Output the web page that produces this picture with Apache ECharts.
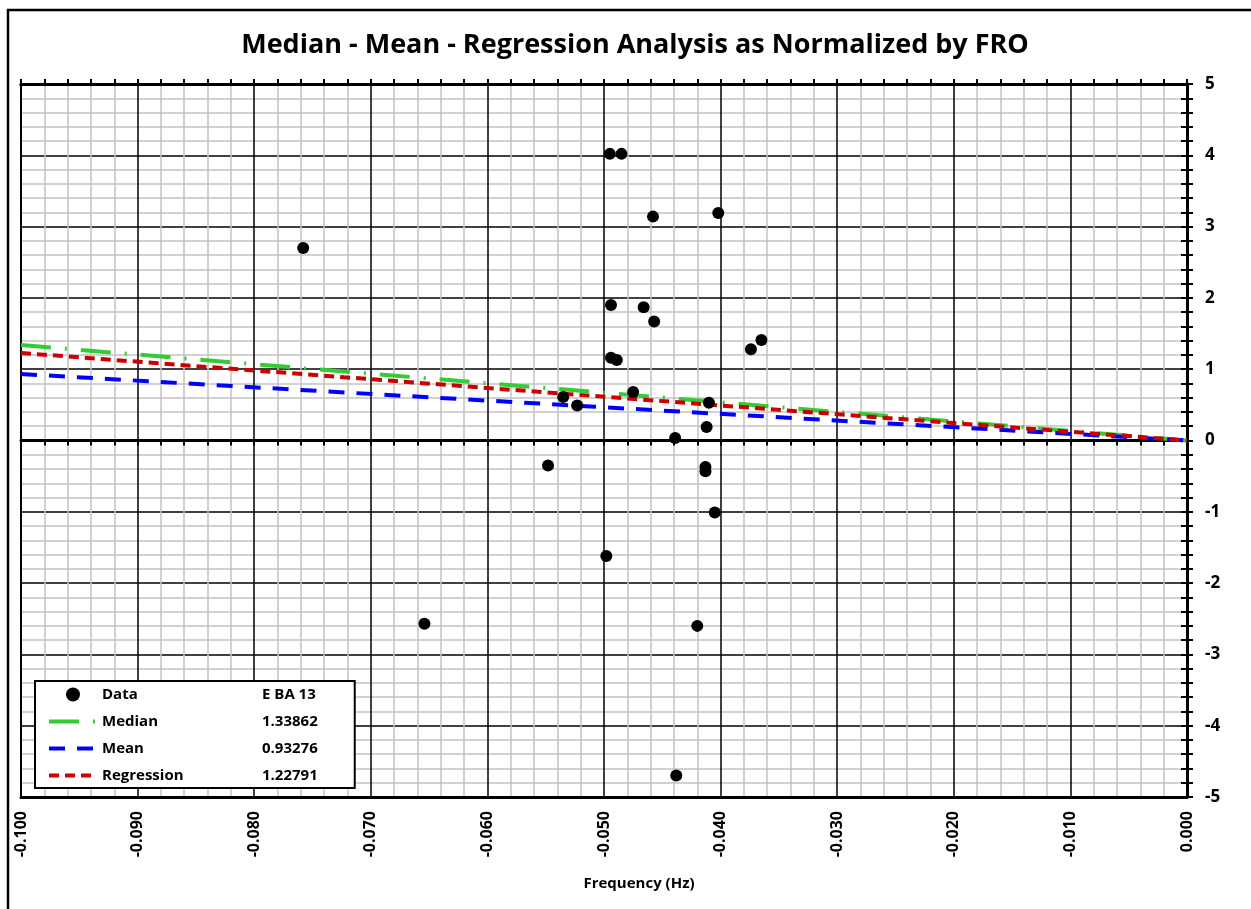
<!DOCTYPE html>
<html>
<head>
<meta charset="utf-8">
<script src="https://cdn.jsdelivr.net/npm/echarts@6/dist/echarts.min.js"></script>
<style>
html,body{margin:0;padding:0;background:#fff;}
#chart{width:1251px;height:909px;}
</style>
</head>
<body>
<div id="chart"></div>
<script>
// ---- data ----
const titleText = 'Median - Mean - Regression Analysis as Normalized by FRO';
const xAxisName = 'Frequency (Hz)';
const dataX = [-0.0758, -0.0495, -0.0485, -0.0458, -0.0402, -0.0494, -0.0466, -0.0457, -0.0494, -0.0489,
               -0.0374, -0.0365, -0.0475, -0.0535, -0.0523, -0.0410, -0.0412, -0.0439, -0.0548, -0.0413,
               -0.0413, -0.0405, -0.0498, -0.0420, -0.0438, -0.0654];
const dataY = [2.70, 4.02, 4.02, 3.14, 3.19, 1.90, 1.87, 1.67, 1.16, 1.13,
               1.28, 1.41, 0.68, 0.61, 0.49, 0.53, 0.19, 0.035, -0.35, -0.37,
               -0.43, -1.01, -1.62, -2.60, -4.70, -2.57];
const lineX = [-0.1, 0];
const medianY = [1.33862, 0];
const meanY = [0.93276, 0];
const regressionY = [1.22791, 0];
const legendNames = ['Data', 'Median', 'Mean', 'Regression'];
const legendValues = ['E BA 13', '1.33862', '0.93276', '1.22791'];

// ---- chart ----
const FONT = 'Open Sans';
const chart = echarts.init(document.getElementById('chart'));
const gridRect = {left: 21, right: 64, top: 84, bottom: 112};
const valueMap = {};
legendNames.forEach((n, i) => valueMap[n] = legendValues[i]);

const xBase = {type: 'value', min: -0.1, max: 0, interval: 0.01};
const yBase = {type: 'value', min: -5, max: 5, interval: 1};

const option = {
  backgroundColor: '#fff',
  animation: false,
  title: {
    text: titleText, left: 630, textAlign: 'center', top: 27,
    textStyle: {fontFamily: FONT, fontWeight: 'bold', fontSize: 27, color: '#000'}
  },
  graphic: [{
    type: 'rect', shape: {x: 8, y: 10, width: 1300, height: 1000},
    style: {fill: 'none', stroke: '#000', lineWidth: 2.5}, silent: true, z: 0
  }],
  grid: [Object.assign({}, gridRect), Object.assign({}, gridRect)],
  xAxis: [
    Object.assign({}, xBase, {
      gridIndex: 0, position: 'bottom',
      axisLine: {onZero: false, lineStyle: {color: '#000', width: 3}},
      axisTick: {show: false},
      axisLabel: {rotate: 90, margin: 14, fontFamily: FONT, fontWeight: 'bold', fontSize: 16, color: '#000',
                  formatter: v => v.toFixed(3)},
      name: xAxisName, nameLocation: 'middle', nameGap: 79,
      nameTextStyle: {fontFamily: FONT, fontWeight: 'bold', fontSize: 15, color: '#000', padding: [0, 0, 0, 70]},
      splitLine: {show: true, lineStyle: {color: '#000', width: 1.5}},
      minorTick: {show: false, splitNumber: 5},
      minorSplitLine: {show: true, lineStyle: {color: '#c4c4c4', width: 1.5}}
    }),
    Object.assign({}, xBase, {
      gridIndex: 0, position: 'top',
      axisLine: {onZero: false, lineStyle: {color: '#000', width: 3}},
      axisTick: {show: false}, axisLabel: {show: false}, splitLine: {show: false}
    }),
    Object.assign({}, xBase, {
      gridIndex: 1, position: 'bottom',
      axisLine: {onZero: true, lineStyle: {color: '#000', width: 3}},
      axisTick: {show: true, inside: false, length: 5, lineStyle: {color: '#000', width: 2}},
      minorTick: {show: true, splitNumber: 5, length: 5, lineStyle: {color: '#000', width: 2}},
      axisLabel: {show: false}, splitLine: {show: false}
    }),
    Object.assign({}, xBase, {
      gridIndex: 1, position: 'top',
      axisLine: {onZero: true, lineStyle: {color: '#000', width: 3}},
      axisTick: {show: true, inside: false, length: 5, lineStyle: {color: '#000', width: 2}},
      minorTick: {show: true, splitNumber: 5, length: 5, lineStyle: {color: '#000', width: 2}},
      axisLabel: {show: false}, splitLine: {show: false}
    })
  ],
  yAxis: [
    Object.assign({}, yBase, {
      gridIndex: 0, position: 'right',
      axisLine: {onZero: false, lineStyle: {color: '#000', width: 3}},
      axisTick: {show: true, inside: false, length: 6, lineStyle: {color: '#000', width: 2}},
      minorTick: {show: true, splitNumber: 5, length: 6, lineStyle: {color: '#000', width: 2}},
      axisLabel: {margin: 18, fontFamily: FONT, fontWeight: 'bold', fontSize: 17, color: '#000'},
      splitLine: {show: true, lineStyle: {color: '#000', width: 1.5}},
      minorSplitLine: {show: true, lineStyle: {color: '#c4c4c4', width: 1.5}}
    }),
    Object.assign({}, yBase, {
      gridIndex: 0, position: 'left',
      axisLine: {onZero: false, lineStyle: {color: '#000', width: 2}},
      axisTick: {show: false}, axisLabel: {show: false}, splitLine: {show: false}
    }),
    Object.assign({}, yBase, {
      gridIndex: 1, position: 'right',
      axisLine: {show: false, onZero: false},
      axisTick: {show: true, inside: true, length: 6, lineStyle: {color: '#000', width: 2}},
      minorTick: {show: true, splitNumber: 5, length: 6, lineStyle: {color: '#000', width: 2}},
      axisLabel: {show: false}, splitLine: {show: false}
    })
  ],
  legend: {
    orient: 'vertical', left: 35, top: 681,
    data: [
      {name: 'Data', icon: 'circle', itemStyle: {color: '#000', opacity: 1}},
      {name: 'Median', itemStyle: {opacity: 0}, lineStyle: {width: 4}},
      {name: 'Mean', itemStyle: {opacity: 0}, lineStyle: {width: 4}},
      {name: 'Regression', itemStyle: {opacity: 0}, lineStyle: {width: 4}}
    ],
    itemWidth: 48, itemHeight: 14, itemGap: 12,
    padding: [6, 37, 5, 12],
    backgroundColor: '#fff', borderColor: '#000', borderWidth: 2,
    selectedMode: false,
    formatter: name => '{n|' + name + '}{v|' + valueMap[name] + '}',
    textStyle: {
      fontFamily: FONT, fontWeight: 'bold', fontSize: 15, color: '#000', lineHeight: 14,
      rich: {
        n: {width: 160, lineHeight: 14, fontFamily: FONT, fontWeight: 'bold', fontSize: 15, color: '#000'},
        v: {lineHeight: 14, fontFamily: FONT, fontWeight: 'bold', fontSize: 15, color: '#000'}
      }
    },
    z: 10
  },
  series: [
    {
      name: 'Median', type: 'line', xAxisIndex: 0, yAxisIndex: 0,
      data: lineX.map((x, i) => [x, medianY[i]]),
      showSymbol: false, symbol: 'none', z: 3,
      lineStyle: {color: '#33cc33', width: 4, type: [30, 14, 2, 14]},
      itemStyle: {color: '#33cc33'}
    },
    {
      name: 'Mean', type: 'line', xAxisIndex: 0, yAxisIndex: 0,
      data: lineX.map((x, i) => [x, meanY[i]]),
      showSymbol: false, symbol: 'none', z: 3,
      lineStyle: {color: '#0000ff', width: 4, type: [16, 12]},
      itemStyle: {color: '#0000ff'}
    },
    {
      name: 'Regression', type: 'line', xAxisIndex: 0, yAxisIndex: 0,
      data: lineX.map((x, i) => [x, regressionY[i]]),
      showSymbol: false, symbol: 'none', z: 4,
      lineStyle: {color: '#cc0000', width: 4, type: [10, 6]},
      itemStyle: {color: '#cc0000'}
    },
    {
      name: 'Data', type: 'scatter', xAxisIndex: 0, yAxisIndex: 0,
      data: dataX.map((x, i) => [x, dataY[i]]),
      symbol: 'circle', symbolSize: 12, z: 5,
      itemStyle: {color: '#000', opacity: 1}
    }
  ]
};
chart.setOption(option);
</script>
</body>
</html>
